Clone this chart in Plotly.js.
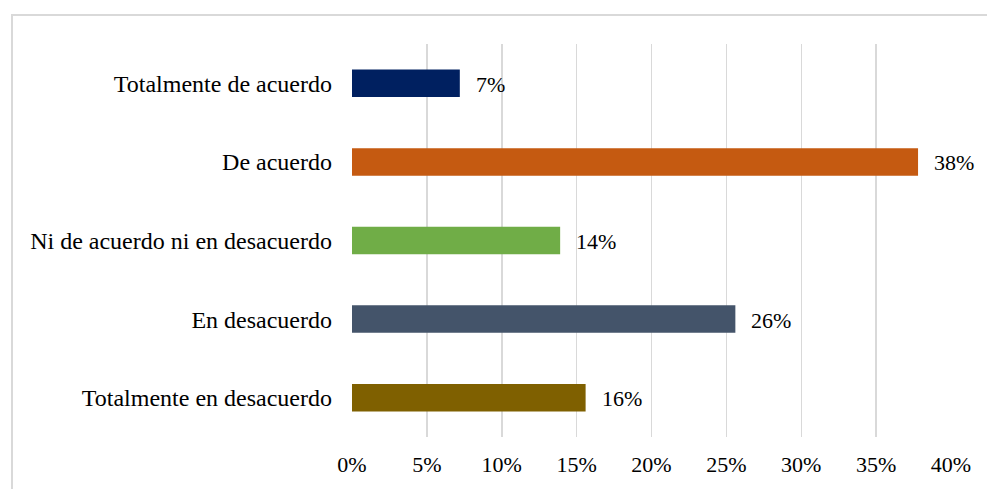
<!DOCTYPE html>
<html>
<head>
<meta charset="utf-8">
<script src="https://cdn.plot.ly/plotly-3.0.1.min.js"></script>
<style>
  html, body { margin: 0; padding: 0; background: #fff; overflow: hidden; }
  #wrap { position: relative; width: 987px; height: 489px; }
  #frame { position: absolute; left: 11px; top: 14px; width: 1100px; height: 600px;
           border: 2px solid #d9d9d9; box-sizing: border-box; pointer-events: none; }
  #chart { position: absolute; left: 0; top: 0; width: 987px; height: 489px; }
</style>
</head>
<body>
<div id="wrap">
  <div id="frame"></div>
  <div id="chart"></div>
</div>
<script>
const categories = [
  "Totalmente de acuerdo",
  "De acuerdo",
  "Ni de acuerdo ni en desacuerdo",
  "En desacuerdo",
  "Totalmente en desacuerdo"
];
const values = [7.2, 37.8, 13.9, 25.6, 15.6];
const labels = ["7%", "38%", "14%", "26%", "16%"];
const colors = ["#002060", "#C55A11", "#70AD47", "#44546A", "#7F6000"];
const tickVals = [0, 5, 10, 15, 20, 25, 30, 35, 40];
const tickText = ["0%", "5%", "10%", "15%", "20%", "25%", "30%", "35%", "40%"];

const FONT = "Liberation Serif";

const trace = {
  type: "bar",
  orientation: "h",
  y: categories,
  x: values,
  marker: { color: colors },
  hoverinfo: "none"
};

const annotations = categories.map((c, i) => ({
  x: values[i], y: c, xref: "x", yref: "y",
  text: labels[i], showarrow: false,
  xanchor: "left", yanchor: "middle", xshift: 14, yshift: -1,
  font: { family: FONT, size: 22, color: "#000" }
}));

const layout = {
  width: 987, height: 489,
  paper_bgcolor: "rgba(0,0,0,0)",
  plot_bgcolor: "rgba(0,0,0,0)",
  margin: { l: 352, r: 36, t: 44, b: 52 },
  bargap: 0.65,
  showlegend: false,
  font: { family: FONT, size: 22, color: "#000" },
  xaxis: {
    range: [0, 40],
    tickvals: tickVals, ticktext: tickText,
    showgrid: true, gridcolor: "#d9d9d9", gridwidth: 1.5,
    zeroline: false, showline: false, ticks: "",
    tickfont: { family: FONT, size: 22, color: "#000" },
    ticklabelstandoff: 12,
    fixedrange: true
  },
  yaxis: {
    categoryorder: "array", categoryarray: categories.slice().reverse(),
    autorange: true,
    showgrid: false, zeroline: false, showline: false, ticks: "",
    tickfont: { family: FONT, size: 24, color: "#000" },
    ticklabelstandoff: 19,
    fixedrange: true
  },
  annotations: annotations
};

Plotly.newPlot("chart", [trace], layout, { displayModeBar: false, staticPlot: true });
</script>
</body>
</html>
